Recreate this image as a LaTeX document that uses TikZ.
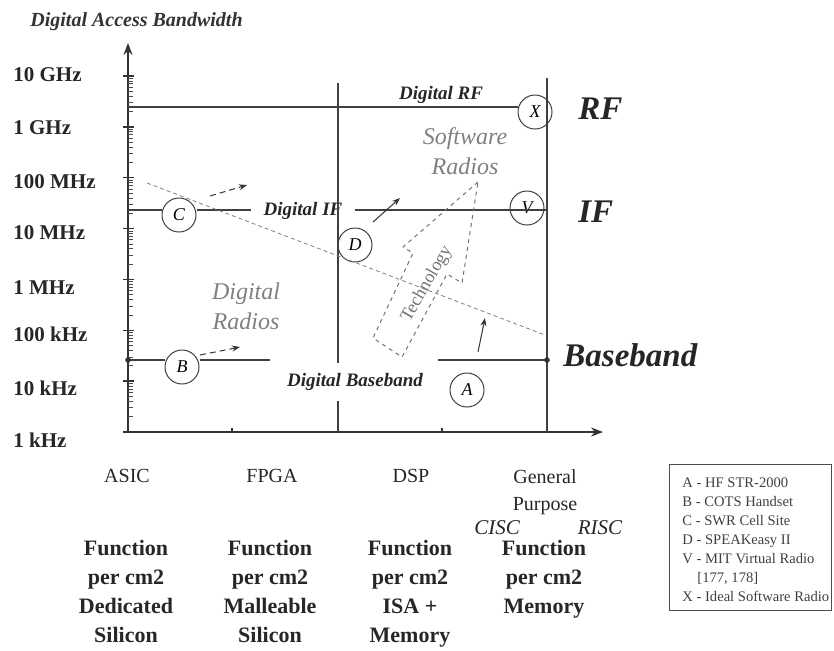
\documentclass[tikz,border=0pt]{standalone}
\usepackage{fontspec}
\setmainfont{Liberation Serif}
\usetikzlibrary{arrows.meta,positioning}

\begin{document}
\begin{tikzpicture}[x=0.5pt, y=-0.5pt, >={Stealth[length=6pt, width=4.5pt]},
  axis/.style={line width=0.7pt, black!80},
  grid/.style={line width=0.6pt, black!75},
  trend/.style={line width=0.4pt, black!50, dash pattern=on 2pt off 1.5pt},
  push/.style={line width=0.5pt, black!80, -{Stealth[length=4pt, width=3pt]}},
  tech/.style={line width=0.5pt, black!55, dash pattern=on 2pt off 2pt, line join=round},
  ring/.style={draw=black!75, line width=0.5pt, circle, minimum size=17pt, inner sep=0pt,
    font=\fontsize{9}{9}\selectfont\itshape},
  lbl/.style={font=\fontsize{9.5}{11}\selectfont\bfseries\itshape, text=black!85,
    inner xsep=6pt, inner ysep=5pt},
  big/.style={font=\fontsize{16.5}{18}\selectfont\bfseries\itshape, text=black!85,
    inner sep=0pt, anchor=west},
  freq/.style={font=\fontsize{10.5}{12}\selectfont\bfseries, text=black!85, inner sep=0pt,
    anchor=west},
  soft/.style={font=\fontsize{12}{15}\selectfont\itshape, text=black!50, align=center},
  cls/.style={font=\fontsize{10}{13.5}\selectfont, text=black!85, align=center, inner sep=0pt},
  fn/.style={font=\fontsize{11}{14.5}\selectfont\bfseries, text=black!85, align=center,
    inner sep=0pt, anchor=north}]
  \useasboundingbox (0,0) rectangle (834,650);

  % axes
  \coordinate (o) at (128,432);
  \coordinate (ytip) at (128,43);
  \coordinate (xtip) at (603,432);
  \draw[axis, ->] (o) -- (ytip);
  \draw[axis, ->] (125,432) -- (xtip);
  \foreach \k in {0,...,7}
    \draw[axis] (123,{76+50.86*\k}) -- (134,{76+50.86*\k});
  \foreach \k in {1,...,7}
    \foreach \m in {2,...,9}
      \draw[line width=0.4pt, black!70] (128,{76+50.86*\k-50.86*log10(\m)})
        -- (133,{76+50.86*\k-50.86*log10(\m)});
  \foreach \x in {232,442}
    \draw[axis] (\x,432) -- (\x,428);

  \node[font=\fontsize{10}{11}\selectfont\bfseries\itshape, text=black!80, anchor=west,
    inner sep=0pt] (ttl) at (30,22) {Digital Access Bandwidth};
  \foreach \y/\t in {75/10 GHz, 128/1 GHz, 182/100 MHz, 233/10 MHz, 288/1 MHz,
      334/100 kHz, 388/10 kHz, 440/1 kHz}
    \node[freq] at (13,\y) {\t};

  % devices
  \node[ring] (X) at (535,112) {X};
  \node[ring] (V) at (527,208) {V};
  \node[ring] (C) at (179,215) {C};
  \node[ring] (D) at (355,245) {D};
  \node[ring] (B) at (182,367) {B};
  \node[ring] (A) at (467,390) {A};

  \node[lbl] (drf) at (441,95) {Digital RF};
  \node[lbl] (dif) at (303,211) {Digital IF};
  \node[lbl] (dbb) at (355,382) {Digital Baseband};
  \node[big] (rf) at (578,109) {RF};
  \node[big] (if) at (578,212) {IF};
  \node[big] (bb) at (563,355) {Baseband};

  % grid lines
  \coordinate (rtop) at (547,78);
  \coordinate (rbot) at (547,432);
  \coordinate (mtop) at (338,83);
  \coordinate (mbot) at (338,432);
  \coordinate (rfl) at (128,107);
  \coordinate (ifl) at (128,210);
  \coordinate (bbl) at (128,360);
  \coordinate (bbm) at (270,360);
  \coordinate (bbr) at (438,360);
  \coordinate (bbe) at (547,360);
  \draw[grid] (rtop) -- (rbot);
  \draw[grid] (mtop) -- (mtop |- dbb.north) (mtop |- dbb.south) -- (mbot);
  \draw[grid] (rfl) -- (rfl -| X.west);
  \draw[grid] (ifl) -- (ifl -| C.west) (ifl -| C.east) -- (ifl -| dif.west)
    (ifl -| dif.east) -- (ifl -| rtop);
  \draw[grid] (bbl) -- (bbl -| B.west) (bbl -| B.east) -- (bbm) (bbr) -- (bbe);
  \fill[black!80] (bbl) circle (1.4pt) (bbe) circle (1.4pt);

  % trend and moves
  \coordinate (tr0) at (147,183);
  \coordinate (tr1) at (545,335);
  \draw[trend] (tr0) -- (tr1);
  \coordinate (pc0) at (210,196);
  \coordinate (pc1) at (247,185);
  \coordinate (pb0) at (200,355);
  \coordinate (pb1) at (240,347);
  \coordinate (pd0) at (373,222);
  \coordinate (pd1) at (400,198);
  \coordinate (pa0) at (478,352);
  \coordinate (pa1) at (485,318);
  \draw[push, densely dashed] (pc0) -- (pc1);
  \draw[push, densely dashed] (pb0) -- (pb1);
  \draw[push] (pd0) -- (pd1);
  \draw[push] (pa0) -- (pa1);

  \node[soft] (drad) at (246,306) {Digital\\Radios};
  \node[soft] (srad) at (465,151) {Software\\Radios};
  \draw[tech] (478,182) -- (403,247) -- (413,253) -- (373,338) -- (402,357) -- (447,274)
    -- (462,283) -- cycle;
  \node[font=\fontsize{9}{9}\selectfont, text=black!55, rotate=60, inner sep=0pt] (tech)
    at (427,284) {Technology};

  % columns
  \node[cls] (asic) at (127,476) {ASIC};
  \node[cls] (fpga) at (272,476) {FPGA};
  \node[cls] (dsp) at (411,476) {DSP};
  \node[cls, anchor=north] (gp) at (545,469) {General\\Purpose};
  \node[cls, font=\fontsize{10.5}{12}\selectfont\itshape] (cisc) at (497,528) {CISC};
  \node[cls, font=\fontsize{10.5}{12}\selectfont\itshape] (risc) at (600,528) {RISC};
  \node[fn] (f1) at (126,540) {Function\\per cm2\\Dedicated\\Silicon};
  \node[fn] (f2) at (270,540) {Function\\per cm2\\Malleable\\Silicon};
  \node[fn] (f3) at (410,540) {Function\\per cm2\\ISA +\\Memory};
  \node[fn] (f4) at (544,540) {Function\\per cm2\\Memory};

  % key
  \draw[line width=0.5pt, black!70] (669,464) rectangle (831,610);
  \node[font=\fontsize{7.3}{9.5}\selectfont, text=black!75, align=left, inner sep=0pt,
    anchor=north west] (key) at (682,477)
    {A - HF STR-2000\\B - COTS Handset\\C - SWR Cell Site\\D - SPEAKeasy II\\
     V - MIT Virtual Radio\\\hspace*{7.5pt}[177, 178]\\X - Ideal Software Radio};
\end{tikzpicture}
\end{document}
